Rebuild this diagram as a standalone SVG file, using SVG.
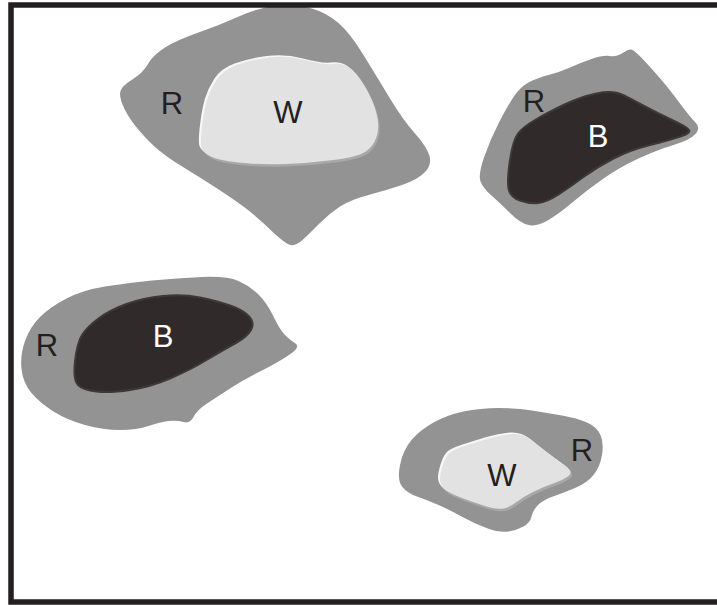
<svg xmlns="http://www.w3.org/2000/svg" xmlns:xlink="http://www.w3.org/1999/xlink" width="717" height="605" viewBox="0 0 717 605">
  <style>
    .rim { fill: #939393; }
    .dark { fill: #302b2a; stroke: #3e3937; stroke-width: 2; }
    .light { fill: #e2e2e2; }
    .hi { fill: #f7f7f7; }
    .sh { fill: #a8a8a8; }
    .lbl { font-family: "Liberation Sans", Arial, sans-serif; font-size: 31px; text-anchor: middle; fill: #231f20; }
    .lbl-w { fill: #ffffff; }
  </style>
  <defs>
    <path id="w1" d="M201.5,147.5 Q200,143 202,126.5 Q204,110 207,100 Q210,90 216.5,80 Q223,70 236.5,65 Q250,60 268.5,57.5 Q287,55 305,60 Q323,65 333,64 Q343,63 350,68 Q357,73 365,86.5 Q373,100 376.5,113.5 Q380,127 376.5,137 Q373,147 365,152 Q357,157 333.5,160 Q310,163 285,164 Q260,165 238.5,162.5 Q217,160 210,156 Q203,152 201.5,147.5 Z"/>
    <path id="w2" d="M440,479 Q440,474 442.5,466 Q445,458 448.5,454 Q452,450 464.5,446 Q477,442 488.5,438.5 Q500,435 511.5,434 Q523,433 531.5,440 Q540,447 548.5,453.5 Q557,460 565.5,466 Q574,472 568.5,476 Q563,480 553,483.5 Q543,487 533,492 Q523,497 516.5,502 Q510,507 503.5,508.5 Q497,510 482,505 Q467,500 457,496 Q447,492 443.5,488 Q440,484 440,479 Z"/>
  </defs>

  <rect x="0" y="0" width="717" height="605" fill="#ffffff"/>

  <!-- upper-left grain: rim around a white core -->
  <g id="grain-top-left">
    <path class="rim" d="M125,110 Q120,100 120,93.5 Q120,87 131.5,80 Q143,73 148,64 Q153,55 165,47.5 Q177,40 198.5,32.5 Q220,25 240,16 Q260,7 278.5,5.5 Q297,4 312,8.5 Q327,13 338.5,23 Q350,33 363.5,55 Q377,77 390,98.5 Q403,120 415,133.5 Q427,147 429.5,156 Q432,165 424.5,172.5 Q417,180 402,185 Q387,190 368.5,195 Q350,200 340,206.5 Q330,213 320,223 Q310,233 302.5,240 Q295,247 289,244.5 Q283,242 268,227.5 Q253,213 236.5,201.5 Q220,190 201.5,178.5 Q183,167 175,162 Q167,157 158.5,150 Q150,143 140,131.5 Q130,120 125,110 Z"/>
    <use xlink:href="#w1" class="sh" transform="translate(1.5,2.5)"/>
    <use xlink:href="#w1" class="hi" transform="translate(-2,-1.5)"/>
    <use xlink:href="#w1" class="light"/>
    <text class="lbl" x="172" y="114">R</text>
    <text class="lbl" x="288" y="123">W</text>
  </g>

  <!-- upper-right grain: rim around a black core -->
  <g id="grain-top-right">
    <path class="rim" d="M480.5,181.5 Q478,175 484,157.5 Q490,140 498.5,123.5 Q507,107 513.5,97 Q520,87 528.5,82.5 Q537,78 548.5,75 Q560,72 570,67.5 Q580,63 591.5,59 Q603,55 610,56 Q617,57 623.5,52.5 Q630,48 633.5,50.5 Q637,53 645,61.5 Q653,70 661.5,80 Q670,90 680,103.5 Q690,117 695.5,122.5 Q701,128 695.5,134 Q690,140 673.5,145 Q657,150 638.5,158.5 Q620,167 603.5,178.5 Q587,190 573.5,201.5 Q560,213 548.5,220 Q537,227 528.5,225 Q520,223 510,213 Q500,203 491.5,195.5 Q483,188 480.5,181.5 Z"/>
    <path class="dark" d="M508.5,188.5 Q507,180 510,160 Q513,140 518,133.5 Q523,127 535,120 Q547,113 563.5,105 Q580,97 596.5,93.5 Q613,90 623,95 Q633,100 645,106.5 Q657,113 672,120 Q687,127 689,130 Q691,133 680.5,136.5 Q670,140 650,145 Q630,150 613.5,158.5 Q597,167 583.5,177 Q570,187 558.5,194.5 Q547,202 538.5,203 Q530,204 520,200.5 Q510,197 508.5,188.5 Z"/>
    <text class="lbl" x="534" y="112">R</text>
    <text class="lbl lbl-w" x="598" y="147">B</text>
  </g>

  <!-- left grain: rim around a black core -->
  <g id="grain-left">
    <path class="rim" d="M21.5,369 Q20,355 25,341 Q30,327 40,317 Q50,307 66.5,298.5 Q83,290 105,286.5 Q127,283 152,280.5 Q177,278 202,277 Q227,276 238.5,281 Q250,286 258.5,294.5 Q267,303 273.5,316.5 Q280,330 285,335 Q290,340 295.5,343.5 Q301,347 289,355 Q277,363 260,371.5 Q243,380 230,388.5 Q217,397 207,403.5 Q197,410 193.5,417 Q190,424 183.5,422 Q177,420 168.5,421 Q160,422 148.5,426 Q137,430 120,430 Q103,430 85,425 Q67,420 53.5,411.5 Q40,403 31.5,393 Q23,383 21.5,369 Z"/>
    <path class="dark" d="M78,385 Q73,380 75,361.5 Q77,343 82,335 Q87,327 98.5,318.5 Q110,310 126.5,304 Q143,298 163,296 Q183,294 200,297.5 Q217,301 230,305.5 Q243,310 249,316.5 Q255,323 251,330 Q247,337 235,343.5 Q223,350 206.5,360 Q190,370 170,378.5 Q150,387 130,390 Q110,393 96.5,391.5 Q83,390 78,385 Z"/>
    <text class="lbl" x="47" y="356">R</text>
    <text class="lbl lbl-w" x="163" y="347">B</text>
  </g>

  <!-- lower grain: rim around a white core -->
  <g id="grain-bottom">
    <path class="rim" d="M402,486.5 Q397,480 400,465 Q403,450 411.5,440 Q420,430 433.5,422.5 Q447,415 463.5,411.5 Q480,408 498.5,408 Q517,408 532,410.5 Q547,413 562,415.5 Q577,418 587,422.5 Q597,427 600.5,435 Q604,443 602,455 Q600,467 593.5,475 Q587,483 575,488 Q563,493 553,496.5 Q543,500 538,505 Q533,510 531.5,516.5 Q530,523 523.5,526.5 Q517,530 508.5,531.5 Q500,533 486.5,528 Q473,523 461.5,516.5 Q450,510 438.5,505 Q427,500 417,496.5 Q407,493 402,486.5 Z"/>
    <use xlink:href="#w2" class="sh" transform="translate(1.5,2.5)"/>
    <use xlink:href="#w2" class="hi" transform="translate(-2,-1.5)"/>
    <use xlink:href="#w2" class="light"/>
    <text class="lbl" x="502" y="486">W</text>
    <text class="lbl" x="582" y="461">R</text>
  </g>

  <!-- frame -->
  <rect x="11" y="5" width="720" height="597" fill="none" stroke="#231f20" stroke-width="5.5"/>
</svg>
